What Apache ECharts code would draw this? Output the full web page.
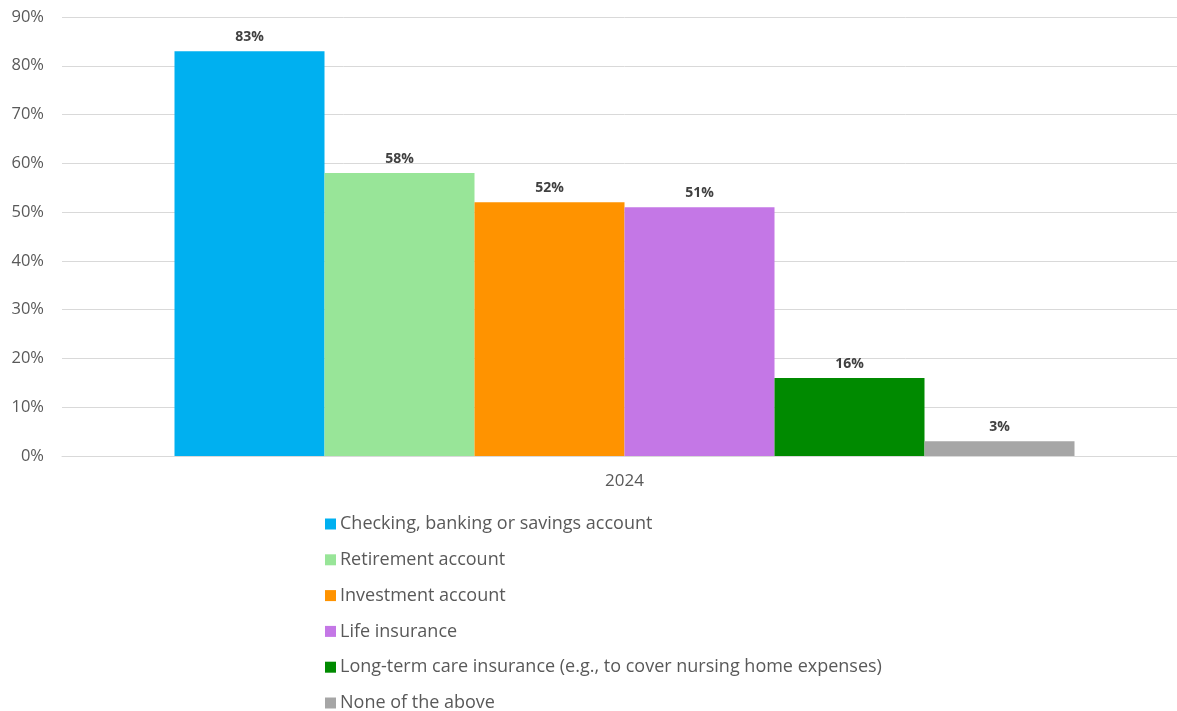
<!DOCTYPE html>
<html>
<head>
<meta charset="utf-8">
<script src="https://cdn.jsdelivr.net/npm/echarts@6/dist/echarts.min.js"></script>
<style>
  html, body { margin: 0; padding: 0; background: #ffffff; overflow: hidden; }
  /* plot area runs slightly past the right edge of the window */
  #chart { width: 1187px; height: 711px; }
</style>
</head>
<body>
<div id="chart"></div>
<script>
// Survey year on the category axis
const categories = ['2024'];

// Account / product types, one series each
const seriesNames = [
  'Checking, banking or savings account',
  'Retirement account',
  'Investment account',
  'Life insurance',
  'Long-term care insurance (e.g., to cover nursing home expenses)',
  'None of the above'
];

// Share of respondents (%)
const seriesValues = [83, 58, 52, 51, 16, 3];

const seriesColors = ['#00B0F0', '#98E598', '#FF9300', '#C477E6', '#008A00', '#A6A6A6'];

// Y-axis ticks
const yMin = 0, yMax = 90, yStep = 10;

const fontFamily = 'Open Sans, "Noto Sans", sans-serif';

const chart = echarts.init(document.getElementById('chart'), null, { renderer: 'canvas' });

const series = seriesNames.map((name, i) => ({
  name: name,
  type: 'bar',
  data: [seriesValues[i]],
  itemStyle: { color: seriesColors[i] },
  barGap: '0%',
  barCategoryGap: '20%',
  label: {
    show: true,
    position: 'top',
    distance: 7,
    formatter: '{c}%',
    fontFamily: fontFamily,
    fontSize: 14,
    fontWeight: 'bold',
    color: '#404040'
  }
}));

chart.setOption({
  animation: false,
  backgroundColor: '#ffffff',
  grid: { left: 62, right: 0, top: 17, bottom: 255, containLabel: false },
  xAxis: {
    type: 'category',
    data: categories,
    axisLine: { show: true, lineStyle: { color: '#D9D9D9' } },
    axisTick: { show: false },
    axisLabel: { fontFamily: fontFamily, fontSize: 17, color: '#595959', margin: 17 }
  },
  yAxis: {
    type: 'value',
    min: yMin,
    max: yMax,
    interval: yStep,
    axisLine: { show: false },
    axisTick: { show: false },
    splitLine: { lineStyle: { color: '#D9D9D9', width: 1 } },
    axisLabel: {
      formatter: '{value}%',
      fontFamily: fontFamily,
      fontSize: 16.5,
      color: '#595959',
      margin: 18
    }
  },
  legend: {
    orient: 'vertical',
    left: 320,
    top: 510,
    height: 240,
    itemWidth: 11,
    itemHeight: 11,
    itemGap: 17.8,
    icon: 'rect',
    data: seriesNames,
    textStyle: { fontFamily: fontFamily, fontSize: 18, color: '#595959', padding: [0, 0, 0, -1] }
  },
  series: series
});
</script>
</body>
</html>
